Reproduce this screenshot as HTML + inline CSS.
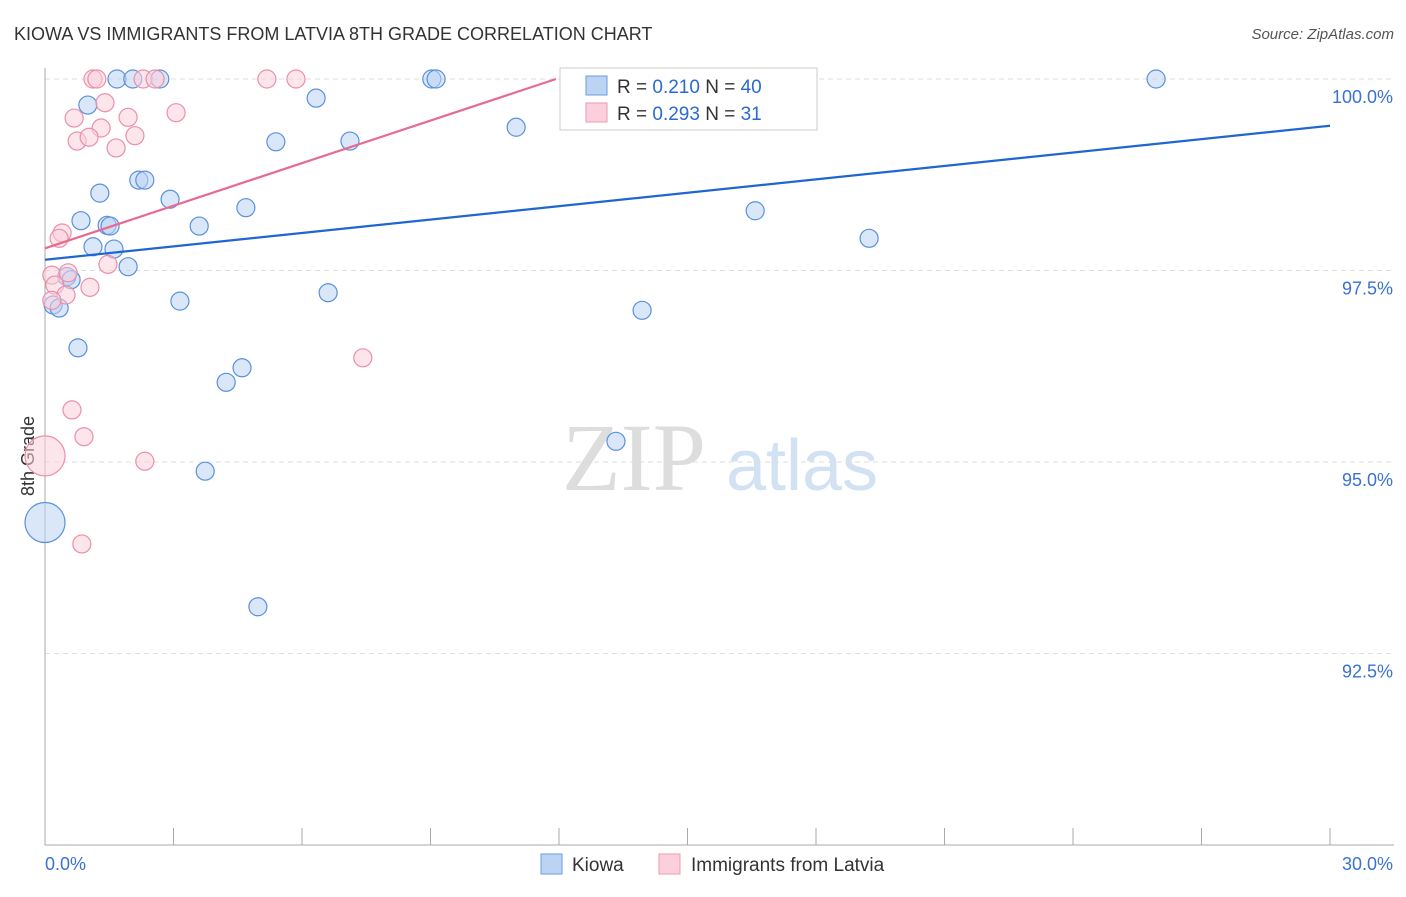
<!DOCTYPE html>
<html><head><meta charset="utf-8"><style>
body{margin:0;background:#fff;font-family:"Liberation Sans",sans-serif;}
</style></head><body>
<svg id="chart" width="1406" height="892" xmlns="http://www.w3.org/2000/svg" font-family="Liberation Sans, sans-serif">
<text x="14" y="40" font-size="18" fill="#333">KIOWA VS IMMIGRANTS FROM LATVIA 8TH GRADE CORRELATION CHART</text>
<text x="1394" y="39" font-size="15" fill="#555" text-anchor="end" font-style="italic">Source: ZipAtlas.com</text>
<g>
<text x="634" y="490" font-size="96" fill="#ddd" text-anchor="middle" font-family="Liberation Serif, serif">ZIP</text>
<text x="802" y="490" font-size="72" fill="#d3e2f3" text-anchor="middle">atlas</text>
</g>
<text transform="translate(34,456) rotate(-90)" font-size="18" fill="#333" text-anchor="middle">8th Grade</text>
<g id="grid"></g><g id="axes"></g><g id="pts"></g><g id="trend"></g>
<g>
<rect x="560" y="68" width="257" height="62" fill="#fff" stroke="#ccc"/>
<rect x="586" y="76" width="21" height="19" fill="#bcd4f4" stroke="#6a9de0"/>
<text x="617" y="93" font-size="19" fill="#333">R = <tspan fill="#2a6ad0">0.210</tspan>   N = <tspan fill="#2a6ad0">40</tspan></text>
<rect x="586" y="103" width="21" height="19" fill="#fbd0dc" stroke="#ec9ab0"/>
<text x="617" y="120" font-size="19" fill="#333">R = <tspan fill="#2a6ad0">0.293</tspan>   N =  <tspan fill="#2a6ad0"> 31</tspan></text>
</g>
<g>
<rect x="541" y="854" width="21" height="20" fill="#bcd4f4" stroke="#6a9de0"/>
<text x="572" y="871" font-size="19" fill="#333">Kiowa</text>
<rect x="659" y="854" width="21" height="20" fill="#fbd0dc" stroke="#ec9ab0"/>
<text x="691" y="871" font-size="19" fill="#333">Immigrants from Latvia</text>
</g>
</svg>
<script>
const xTicksPct=[0,30];
const yTicks=[100,97.5,95,92.5];
const blueX=[1.68,2.05,2.68,9.03,9.13,16.20,25.94,1.00,6.33,5.39,7.12,11.00,1.28,2.19,2.33,2.92,0.84,1.45,1.52,3.60,4.69,16.58,19.24,1.12,1.61,1.94,0.51,0.61,0.19,0.33,3.15,6.61,13.94,0.77,4.60,4.23,13.33,3.74,0,4.97];
const blueY=[100,100,100,100,100,100,100,99.66,99.75,99.18,99.19,99.37,98.51,98.68,98.68,98.43,98.15,98.09,98.08,98.08,98.32,98.28,97.92,97.81,97.78,97.55,97.42,97.38,97.05,97.01,97.10,97.21,96.98,96.49,96.23,96.04,95.27,94.88,94.21,93.11];
const blueBig=[38];
const pinkX=[1.12,1.21,2.29,2.57,5.18,5.86,14.31,1.40,0.68,3.06,1.94,1.31,0.75,1.03,2.10,1.66,0.40,0.33,1.47,0.16,0.54,0.23,1.05,0.49,0.16,7.42,0.63,0.91,0,2.33,0.86];
const pinkY=[100,100,100,100,100,100,100,99.69,99.49,99.56,99.50,99.36,99.19,99.24,99.26,99.10,97.99,97.92,97.58,97.44,97.47,97.31,97.28,97.18,97.11,96.36,95.68,95.33,95.08,95.01,93.93];
const pinkBig=[28];
const blueTrend=[97.64,99.39];
const pinkTrend=[97.79,100];
const pinkTrendEndX=11.93;
const X=v=>45+v/30*1285, Y=v=>79+(100-v)/2.5*191.5;
const NS='http://www.w3.org/2000/svg';
function mk(p,t,a){const e=document.createElementNS(NS,t);for(const k in a)e.setAttribute(k,a[k]);document.getElementById(p).appendChild(e);return e;}
yTicks.forEach(t=>{
 const g=mk('grid','line',{x1:45,x2:1394,y1:Y(t),y2:Y(t),stroke:'#ddd','stroke-dasharray':'5,4'});
 
 
 const l=mk('grid','text',{x:1393,y:Y(t)+24,'font-size':18,fill:'#3a72d0','text-anchor':'end'});
 l.textContent=t.toFixed(1)+'%';
 
 
});
mk('axes','line',{x1:45,x2:45,y1:68,y2:845,stroke:'#aaa'});
mk('axes','line',{x1:45,x2:1394,y1:845,y2:845,stroke:'#aaa'});
for(let i=0;i<=10;i++){const x=45+i*128.5;const t=mk('axes','line',{x1:x,x2:x,y1:828,y2:845,stroke:'#aaa'});
 
 }
xTicksPct.forEach((t,i)=>{const l=mk('axes','text',{x:i?1393:45,y:870,'font-size':18,fill:'#3a72d0','text-anchor':i?'end':'start'});
 l.textContent=t.toFixed(1)+'%';
 
 });
function pts(xs,ys,big,fill,stroke,name){xs.forEach((v,i)=>{const c=mk('pts','circle',{cx:X(v),cy:Y(ys[i]),r:big.includes(i)?20:9,fill:fill,'fill-opacity':0.55,stroke:stroke,'stroke-width':1.2});
 
 });}
pts(blueX,blueY,blueBig,'#bcd4f4','#5a90dc','kiowa-point');
pts(pinkX,pinkY,pinkBig,'#fbd0dc','#ec8fa8','latvia-point');
const bl=mk('trend','line',{x1:X(0),y1:Y(blueTrend[0]),x2:X(30),y2:Y(blueTrend[1]),stroke:'#1f66d0','stroke-width':2.2});


const pl=mk('trend','line',{x1:X(0),y1:Y(pinkTrend[0]),x2:X(pinkTrendEndX),y2:Y(pinkTrend[1]),stroke:'#e86a90','stroke-width':2.2});


</script>
</body></html>
